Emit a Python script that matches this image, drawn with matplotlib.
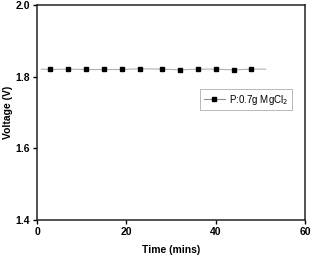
import numpy as np
import matplotlib
matplotlib.use("Agg")
import matplotlib.pyplot as plt
from matplotlib.lines import Line2D

plt.rcParams['font.family'] = ['Liberation Sans', 'DejaVu Sans']

# readings (minutes, volts)
time_min = [3, 7, 11, 15, 19, 23, 28, 32, 36, 40, 44, 48]
voltage = [1.820, 1.821, 1.820, 1.820, 1.820, 1.822, 1.821, 1.819, 1.821, 1.821, 1.819, 1.821]
# continuous trace behind the markers
trace_t = [1.0, 3, 7, 11, 15, 19, 23, 28, 32, 36, 40, 44, 48, 51.2]
trace_v = [1.821, 1.820, 1.821, 1.820, 1.820, 1.820, 1.822, 1.821, 1.819, 1.821, 1.821, 1.819, 1.821, 1.821]
label = "P:0.7g MgCl$_2$"

fig = plt.figure(figsize=(3.12, 2.6), dpi=100)
ax = fig.add_axes([0.1186, 0.1538, 0.859, 0.827])

ax.plot(trace_t, trace_v, color='#b0b0b0', lw=0.8, zorder=1)
ax.plot(time_min, voltage, ls='none', marker='s', ms=3.3, color='black', zorder=2)

ax.set_xlim(0, 60)
ax.set_ylim(1.4, 2.0)
ax.set_xticks([0, 20, 40, 60])
ax.set_yticks([1.4, 1.6, 1.8, 2.0])
ax.xaxis.set_major_formatter(matplotlib.ticker.FormatStrFormatter('%d'))
ax.yaxis.set_major_formatter(matplotlib.ticker.FormatStrFormatter('%.1f'))
ax.tick_params(axis='both', direction='out', length=3, width=1, labelsize=7.5, pad=2)
for lab in ax.get_xticklabels() + ax.get_yticklabels():
    lab.set_fontweight('bold')
for s in ax.spines.values():
    s.set_linewidth(1.1)
    s.set_color('#222222')

ax.set_xlabel("Time (mins)", fontsize=7.5, fontweight='bold', labelpad=6)
ax.set_ylabel("Voltage (V)", fontsize=7.5, fontweight='bold', labelpad=2)

handle = Line2D([], [], color='#909090', lw=0.8, marker='s', ms=3,
                markerfacecolor='black', markeredgecolor='black')
leg = ax.legend([handle], [label], loc='center', bbox_to_anchor=(0.78, 0.56),
                fontsize=7, frameon=True, fancybox=False, handlelength=2.2,
                borderpad=0.4, handletextpad=0.4)
leg.get_frame().set_edgecolor('#999999')
leg.get_frame().set_linewidth(0.6)

fig.savefig("out.png", dpi=100)
